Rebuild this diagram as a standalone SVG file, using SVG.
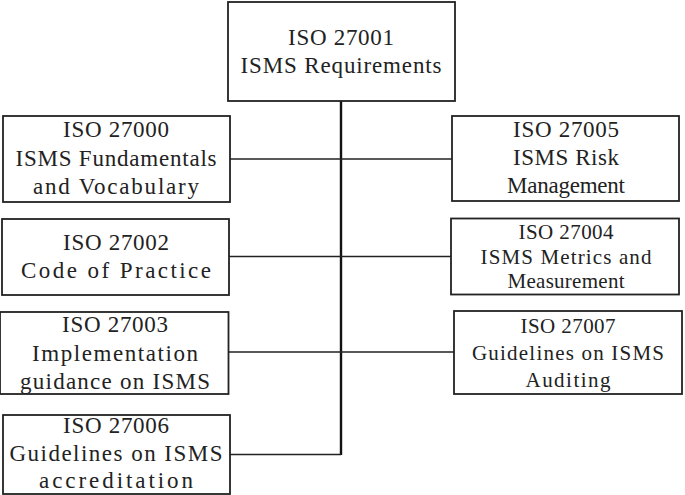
<svg xmlns="http://www.w3.org/2000/svg" width="685" height="495" viewBox="0 0 685 495">
<style>
rect.box{fill:#fff;stroke:#222;stroke-width:1.8}
.c{stroke:#222;stroke-width:1.5;fill:none}
.v{stroke:#111;stroke-width:2.4;fill:none}
text{font-family:"Liberation Serif","DejaVu Serif",serif;font-size:23px;fill:#222;text-anchor:middle}
text.s{font-size:21px}
</style>
<rect width="685" height="495" fill="#fff"/>
<g id="connectors">
<line class="v" x1="341" y1="101" x2="341" y2="455"/>
<line class="c" x1="230" y1="159" x2="452" y2="159"/>
<line class="c" x1="229" y1="256.5" x2="451" y2="256.5"/>
<line class="c" x1="228.5" y1="352" x2="454" y2="352"/>
<line class="c" x1="230" y1="454.5" x2="341" y2="454.5"/>
</g>
<g id="iso27001">
<rect class="box" x="228" y="2" width="227" height="99"/>
<text x="341" y="45" textLength="106" lengthAdjust="spacing">ISO 27001</text>
<text x="341" y="73" textLength="201" lengthAdjust="spacing">ISMS Requirements</text>
</g>
<g id="iso27000">
<rect class="box" x="3" y="116" width="227" height="86"/>
<text x="116" y="137" textLength="106" lengthAdjust="spacing">ISO 27000</text>
<text x="116" y="166" textLength="201" lengthAdjust="spacing">ISMS Fundamentals</text>
<text x="116" y="194" textLength="166" lengthAdjust="spacing">and Vocabulary</text>
</g>
<g id="iso27002">
<rect class="box" x="2" y="219" width="227" height="76"/>
<text x="116" y="250" textLength="106" lengthAdjust="spacing">ISO 27002</text>
<text x="116" y="278" textLength="190" lengthAdjust="spacing">Code of Practice</text>
</g>
<g id="iso27003">
<rect class="box" x="0" y="312" width="228.5" height="82"/>
<text x="115" y="332" textLength="106" lengthAdjust="spacing">ISO 27003</text>
<text x="115" y="361" textLength="166" lengthAdjust="spacing">Implementation</text>
<text x="115" y="389" textLength="190" lengthAdjust="spacing">guidance on ISMS</text>
</g>
<g id="iso27006">
<rect class="box" x="3" y="415" width="227" height="79"/>
<text x="116" y="433" textLength="106" lengthAdjust="spacing">ISO 27006</text>
<text x="116" y="461" textLength="213" lengthAdjust="spacing">Guidelines on ISMS</text>
<text x="116" y="488" textLength="154" lengthAdjust="spacing">accreditation</text>
</g>
<g id="iso27005">
<rect class="box" x="452" y="116" width="227" height="85"/>
<text x="566" y="137" textLength="106" lengthAdjust="spacing">ISO 27005</text>
<text x="566" y="165" textLength="106" lengthAdjust="spacing">ISMS Risk</text>
<text x="566" y="193" textLength="118" lengthAdjust="spacing">Management</text>
</g>
<g id="iso27004">
<rect class="box" x="451" y="218.5" width="228" height="76"/>
<text class="s" x="566" y="238.5" textLength="95" lengthAdjust="spacing">ISO 27004</text>
<text class="s" x="566" y="263.5" textLength="171" lengthAdjust="spacing">ISMS Metrics and</text>
<text class="s" x="566" y="288" textLength="117" lengthAdjust="spacing">Measurement</text>
</g>
<g id="iso27007">
<rect class="box" x="454" y="311" width="228" height="83"/>
<text class="s" x="568" y="333" textLength="95" lengthAdjust="spacing">ISO 27007</text>
<text class="s" x="568" y="360" textLength="192" lengthAdjust="spacing">Guidelines on ISMS</text>
<text class="s" x="568" y="387" textLength="85" lengthAdjust="spacing">Auditing</text>
</g>
</svg>
